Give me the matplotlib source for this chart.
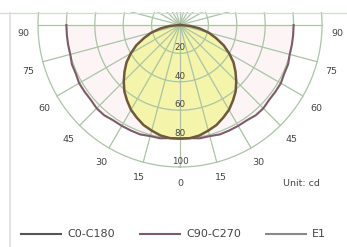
import numpy as np
import matplotlib
matplotlib.use("Agg")
import matplotlib.pyplot as plt
from matplotlib.lines import Line2D

# ---- data ----
angles_deg = [0, 5, 10, 15, 20, 25, 30, 35, 40, 45, 50, 55, 60, 65, 70, 75, 80, 85, 90]
c0_c180 = [80, 80, 79, 77, 75, 72, 69, 65, 61, 56, 51, 46, 40, 34, 27, 21, 14, 7, 0]
c90_c270 = [80, 80, 81, 81, 82, 82, 82, 82, 83, 83, 82, 82, 82, 81, 81, 80, 80, 80, 80]
ring_values = [20, 40, 60, 80, 100]
ring_labels = ["20", "40", "60", "80", "100"]
angle_ticks = [0, 15, 30, 45, 60, 75, 90]
angle_labels = ["0", "15", "30", "45", "60", "75", "90"]
series_names = ["C0-C180", "C90-C270", "E1"]
unit_text = "Unit: cd"

W, H, DPI = 347, 247, 100
K = 1.42          # pixels per cd
CX, CY = 180, 25  # centre of the polar diagram in pixels
TOP = 12

fig = plt.figure(figsize=(W / DPI, H / DPI), dpi=DPI)
fig.patch.set_facecolor("white")
ax = fig.add_axes([0, 0, 1, (H - TOP) / H])
ax.set_xlim(-CX / K, (W - CX) / K)
ax.set_ylim(-(H - CY) / K, (CY - TOP) / K)
ax.axis("off")

def full(vals):
    a = np.array(angles_deg, float)
    v = np.array(vals, float)
    aa = np.concatenate([-a[::-1], a[1:]])
    vv = np.concatenate([v[::-1], v[1:]])
    return aa, vv

def xy(a_deg, r):
    t = np.radians(a_deg)
    return r * np.sin(t), -r * np.cos(t)

# fills
a1, v1 = full(c90_c270)
x1, y1 = xy(a1, v1)
ax.fill(np.r_[x1, 0], np.r_[y1, 0], color="#fdf4f6", zorder=1, lw=0)
a0, v0 = full(c0_c180)
x0, y0 = xy(a0, v0)
ax.fill(np.r_[x0, 0], np.r_[y0, 0], color="#f4f4aa", zorder=2, lw=0)

# grid
grid_col = "#abc4a6"
tt = np.linspace(0, 360, 361)
for rv in ring_values:
    gx, gy = xy(tt, rv)
    ax.plot(gx, gy, color=grid_col, lw=0.9, zorder=3)
rmax = ring_values[-1]
for ang in range(-180, 180, 15):
    gx, gy = xy(np.array([ang, ang]), np.array([0, rmax]))
    ax.plot(gx, gy, color=grid_col, lw=0.9, zorder=3)
ax.axhline((CY - TOP - 1) / K, color="#d2dbd2", lw=0.9, zorder=3)
ax.axvline(-(CX - 10) / K, color="#e4dae4", lw=1.2, zorder=3)

# curves
ax.plot(x1, y1, color="#7c5c6a", lw=1.5, zorder=5)
ax.plot(x0, y0, color="#6e5a3a", lw=1.8, zorder=6)

# ring labels
for rv, lab in zip(ring_values, ring_labels):
    ax.text(0, -rv + 5.5 / K, lab, ha="center", va="center", fontsize=6.3,
            color="#444444", zorder=4)

# angle labels
ax_l, b_l, cy_l = 157 / K, 150 / K, -(33 - CY) / K
for ang, lab in zip(angle_ticks, angle_labels):
    t = np.radians(ang)
    for s in ([-1, 1] if ang else [1]):
        ax.text(s * ax_l * np.sin(t), cy_l - b_l * np.cos(t), lab, ha="center",
                va="center", fontsize=6.8, color="#444444", zorder=4)

ax.text((283 - CX) / K, -(183 - CY) / K, unit_text, ha="left", va="center",
        fontsize=6.8, color="#444444")

handles = [Line2D([], [], color="#555555", lw=1.5),
           Line2D([], [], color="#7c5c6a", lw=1.5),
           Line2D([], [], color="#888888", lw=1.5)]
fig.legend(handles, series_names, loc="lower center", bbox_to_anchor=(0.5, -0.01),
           ncol=3, frameon=False, fontsize=8, handlelength=3.6, handletextpad=0.6,
           columnspacing=2.2, labelcolor="#444444")

fig.savefig("out.png", dpi=DPI, facecolor="white")
